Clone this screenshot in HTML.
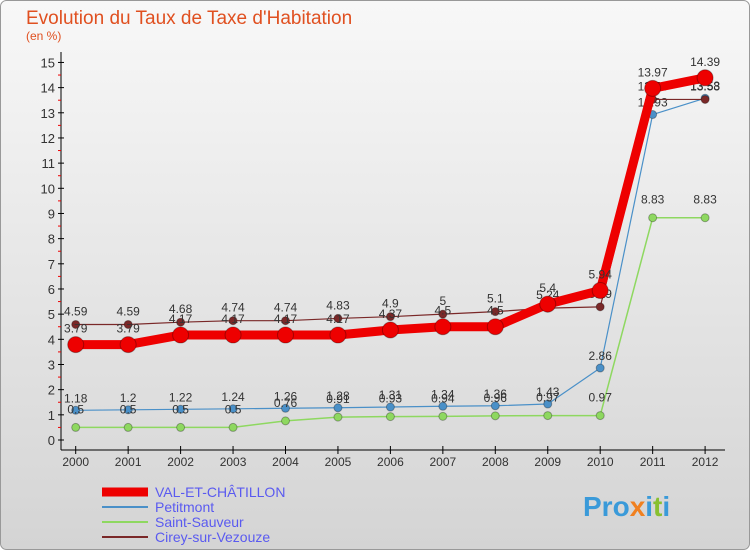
<!DOCTYPE html>
<html><head><meta charset="utf-8"><style>
body{margin:0;width:750px;height:550px;overflow:hidden;font-family:"Liberation Sans",sans-serif}
</style></head><body>
<svg width="750" height="550" xmlns="http://www.w3.org/2000/svg">
<defs><linearGradient id="bg" x1="0" y1="0" x2="0" y2="1"><stop offset="0" stop-color="#f8f8f8"/><stop offset="1" stop-color="#d4d4d4"/></linearGradient></defs>
<rect x="0.5" y="0.5" width="749" height="549" rx="6" fill="url(#bg)" stroke="#999"/>
<text x="26" y="24" font-size="19" fill="#e05020">Evolution du Taux de Taxe d'Habitation</text>
<text x="26" y="40" font-size="12" fill="#e05020">(en %)</text>
<g id="axes"></g>
<g id="series"></g>
<g id="legend"></g>
<text x="583" y="516" font-size="28" font-weight="bold" fill="#3a9ad9">Pro<tspan fill="#f08020">x</tspan>i<tspan fill="#88c030">t</tspan>i</text>
</svg>
<script>
const years=[2000,2001,2002,2003,2004,2005,2006,2007,2008,2009,2010,2011,2012];
const valEtChatillon=[3.79,3.79,4.17,4.17,4.17,4.17,4.37,4.5,4.5,5.4,5.94,13.97,14.39];
const petitmont=[1.18,1.2,1.22,1.24,1.26,1.28,1.31,1.34,1.36,1.43,2.86,12.93,13.58];
const saintSauveur=[0.5,0.5,0.5,0.5,0.76,0.91,0.93,0.94,0.96,0.97,0.97,8.83,8.83];
const cirey=[4.59,4.59,4.68,4.74,4.74,4.83,4.9,5,5.1,5.24,5.29,13.53,13.53];
const yTicks=[0,1,2,3,4,5,6,7,8,9,10,11,12,13,14,15];
const NS="http://www.w3.org/2000/svg";
const X=i=>75.7+i*52.45, Y=v=>440-v*25.17;
function mk(tag,attrs,parent,txt){const e=document.createElementNS(NS,tag);for(const k in attrs)e.setAttribute(k,attrs[k]);if(txt!=null)e.textContent=txt;parent.appendChild(e);return e;}
const ax=document.getElementById('axes');
let l=mk('line',{x1:61,y1:52,x2:61,y2:450,stroke:'#000'},ax);


l=mk('line',{x1:61,y1:450,x2:725,y2:450,stroke:'#000'},ax);


yTicks.forEach(v=>{
 mk('line',{x1:58,y1:Y(v),x2:64,y2:Y(v),stroke:'#000'},ax);
 if(v<15) mk('line',{x1:58,y1:Y(v+0.5),x2:61,y2:Y(v+0.5),stroke:'#e00'},ax);
 const t=mk('text',{x:55,y:Y(v)+5,'font-size':13,'text-anchor':'end',fill:'#333'},ax,v);
 
 
});
years.forEach((yr,i)=>{
 mk('line',{x1:X(i),y1:446,x2:X(i),y2:454,stroke:'#000'},ax);
 const t=mk('text',{x:X(i),y:466,'font-size':12,'text-anchor':'middle',fill:'#333'},ax,yr);
 
 
});
const sg=document.getElementById('series');
const series=[
 {n:'petitmont',d:petitmont,c:'#4a90c8',w:1.2,r:4,lab:-8},
 {n:'saint-sauveur',d:saintSauveur,c:'#8ed860',w:1.5,r:4,lab:-14},
 {n:'cirey',d:cirey,c:'#7a2828',w:1.2,r:4,lab:-9},
 {n:'val-et-chatillon',d:valEtChatillon,c:'#ee0000',w:9,r:8,lab:-12}
];
series.forEach(s=>{
 const g=mk('g',{},sg);
 
 
 const p=mk('polyline',{points:s.d.map((v,i)=>X(i)+','+Y(v)).join(' '),fill:'none',stroke:s.c,'stroke-width':s.w,'stroke-linejoin':'round'},g);
 
 
 s.d.forEach((v,i)=>{
  const c=mk('circle',{cx:X(i),cy:Y(v),r:s.r,fill:s.c,stroke:'rgba(0,0,0,0.3)'},g);
  
  
  const t=mk('text',{x:X(i),y:Y(v)+s.lab,'font-size':12,'text-anchor':'middle',fill:'#333'},g,String(v));
  
  
 });
});
const lg=document.getElementById('legend');
[['VAL-ET-CHÂTILLON','#ee0000',9],['Petitmont','#4a90c8',2],['Saint-Sauveur','#8ed860',2],['Cirey-sur-Vezouze','#7a2828',2]].forEach((e,i)=>{
 const y=492+i*15;
 const ln=mk('line',{x1:102,y1:y,x2:148,y2:y,stroke:e[1],'stroke-width':e[2]},lg);
 
 
 const t=mk('text',{x:155,y:y+5,'font-size':14,fill:'#5a5af0'},lg,e[0]);
 
 
});
</script>
</body></html>
